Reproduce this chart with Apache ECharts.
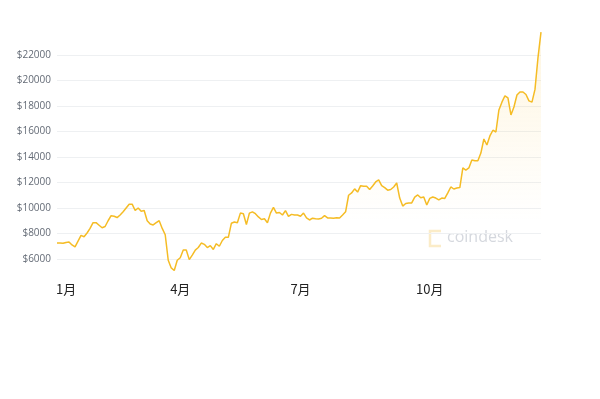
<!DOCTYPE html>
<html>
<head>
<meta charset="utf-8">
<script src="https://cdn.jsdelivr.net/npm/echarts@6/dist/echarts.min.js"></script>
<style>
  html, body { margin: 0; padding: 0; background: #fff; }
  #chart { width: 600px; height: 399px; }
</style>
</head>
<body>
<div id="chart"></div>
<script>
// x轴月份标签及其所在的点序号
const monthLabels = ['1月', '4月', '7月', '10月']
const monthIdx = [3, 41, 81, 124]

// 价格 (美元)，按图上等间距读取
const prices = [
  7250, 7250, 7230, 7300, 7330, 7100, 6950, 7400, 7850, 7750,
  8040, 8400, 8850, 8850, 8650, 8450, 8550, 9000, 9400, 9350,
  9250, 9450, 9700, 10000, 10300, 10300, 9800, 10000, 9750, 9800,
  9000, 8750, 8670, 8850, 9000, 8400, 7900, 5900, 5300, 5100,
  5900, 6100, 6700, 6700, 5950, 6300, 6700, 6900, 7250, 7150,
  6900, 7050, 6750, 7200, 7000, 7450, 7700, 7700, 8800, 8900,
  8850, 9600, 9550, 8700, 9600, 9700, 9550, 9300, 9100, 9150,
  8850, 9600, 10050, 9600, 9650, 9450, 9800, 9350, 9500, 9450,
  9450, 9350, 9600, 9220, 9060, 9200, 9150, 9140, 9200, 9400,
  9220, 9220, 9200, 9230, 9220, 9450, 9700, 11000, 11180, 11500,
  11250, 11750, 11700, 11700, 11450, 11730, 12040, 12200, 11750, 11600,
  11400, 11450, 11650, 11960, 10780, 10150, 10350, 10400, 10400, 10860,
  11020, 10800, 10860, 10240, 10750, 10860, 10780, 10630, 10780, 10750,
  11180, 11650, 11490, 11570, 11600, 13140, 12980, 13140, 13760, 13700,
  13700, 14310, 15410, 14940, 15650, 16100, 15960, 17690, 18300, 18800,
  18630, 17300, 17920, 18860, 19100, 19100, 18900, 18400, 18300, 19300,
  21800, 23800
]

// y轴刻度范围
const yMin = 4000
const yMax = 24000
const yStep = 2000

const days = prices.map((_, i) => i)

const chart = echarts.init(document.getElementById('chart'))

// 首尾分隔线不画
const gridColors = []
for (let v = yMin; v <= yMax; v += yStep) {
  gridColors.push(v === yMin || v === yMax ? 'rgba(0,0,0,0)' : '#eef0f2')
}

const option = {
  animation: false,
  grid: {
    left: 57,
    top: 29.5,
    width: 484,
    height: 255,
  },
  xAxis: {
    type: 'category',
    data: days,
    boundaryGap: false,
    axisLine: { show: false },
    axisTick: { show: false },
    axisLabel: {
      interval: (index) => monthIdx.includes(index),
      formatter: (value, index) => {
        const k = monthIdx.indexOf(index)
        return k >= 0 ? monthLabels[k] : ''
      },
      margin: -2,
      fontSize: 13,
      color: '#222',
      fontFamily: 'Noto Sans CJK SC',
    },
  },
  yAxis: {
    type: 'value',
    min: yMin,
    max: yMax,
    interval: yStep,
    axisLine: { show: false },
    axisTick: { show: false },
    axisLabel: {
      formatter: (v) => (v === yMin || v === yMax ? '' : '$' + v),
      margin: 6,
      fontSize: 10,
      color: '#646b76',
      fontFamily: 'Open Sans',
    },
    splitLine: {
      lineStyle: { color: gridColors, width: 1 },
    },
  },
  // 水印
  graphic: [
    {
      type: 'polyline',
      shape: { points: [[441, 231], [430, 231], [430, 246], [441, 246]] },
      style: { stroke: '#fbecc8', lineWidth: 2.5, fill: null },
    },
    {
      type: 'text',
      left: 447,
      top: 229,
      style: {
        text: 'coindesk',
        fontSize: 16,
        fontFamily: 'Open Sans',
        fill: '#d5d8de',
      },
    },
  ],
  series: [
    {
      type: 'line',
      data: prices,
      symbol: 'none',
      smooth: false,
      lineStyle: { color: '#f5bc25', width: 1.5 },
      areaStyle: {
        color: new echarts.graphic.LinearGradient(0, 0, 0, 1, [
          { offset: 0, color: 'rgba(250, 195, 60, 0.22)' },
          { offset: 0.75, color: 'rgba(250, 195, 60, 0)' },
        ]),
      },
    },
  ],
}

chart.setOption(option)
</script>
</body>
</html>
